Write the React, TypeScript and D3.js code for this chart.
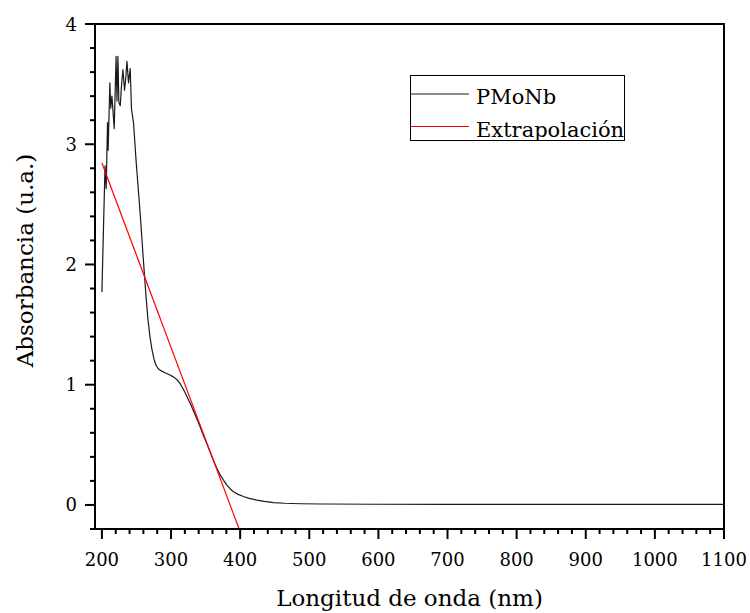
import React from "react";
import * as d3 from "d3";

const wavelength = [200, 204.5, 206.2, 208.1, 209.0, 211.5, 212.8, 214.5, 217.8, 220.5, 221.8, 223.2, 224.5, 226.5, 228.5, 230.4, 232.7, 234.5, 236.2, 238.5, 240.9, 242.8, 245.7, 249.6, 255.4, 260.2, 263.5, 266.5, 269.5, 272.5, 275.5, 278.5, 282, 286, 291, 297, 303.5, 309, 314, 319, 324, 329, 334, 338.5, 343, 347.5, 351.8, 356.5, 361.4, 366, 371.1, 376, 380.8, 385.5, 390.3, 397, 404.8, 413, 424.1, 435, 448.2, 465, 486.8, 520, 600, 700, 900, 1100];
const absorbance = [1.77, 2.82, 2.63, 3.18, 2.95, 3.51, 3.30, 3.40, 3.13, 3.73, 3.36, 3.73, 3.35, 3.32, 3.50, 3.62, 3.45, 3.55, 3.69, 3.51, 3.63, 3.29, 3.18, 2.85, 2.42, 2.02, 1.76, 1.55, 1.40, 1.29, 1.21, 1.16, 1.13, 1.115, 1.10, 1.085, 1.065, 1.04, 1.0, 0.95, 0.89, 0.83, 0.76, 0.70, 0.635, 0.57, 0.51, 0.44, 0.37, 0.31, 0.25, 0.205, 0.165, 0.135, 0.11, 0.088, 0.07, 0.055, 0.04, 0.03, 0.02, 0.014, 0.01, 0.008, 0.006, 0.005, 0.005, 0.005];
const extrapWavelength = [200, 398.5];
const extrapAbsorbance = [2.844, -0.2];

const xMajorTicks = [200, 300, 400, 500, 600, 700, 800, 900, 1000, 1100];
const yMajorTicks = [0, 1, 2, 3, 4];
const seriesNames = ["PMoNb", "Extrapolación"];
const xTitle = "Longitud de onda (nm)";
const yTitle = "Absorbancia (u.a.)";

const W = 750, H = 613;
const L = 95, R = 724, T = 24, B = 529;
const FONT = "'DejaVu Serif', serif";

export default function App() {
  const x = d3.scaleLinear().domain([190, 1100]).range([L, R]);
  const y = d3.scaleLinear().domain([-0.2, 4]).range([B, T]);

  const spectrum = wavelength.map((w, i) => [w, absorbance[i]] as [number, number]);
  const extrap = extrapWavelength.map((w, i) => [w, extrapAbsorbance[i]] as [number, number]);
  const line = d3.line<[number, number]>().x(d => x(d[0])).y(d => y(d[1]));

  const xMinor = d3.range(200, 1100.01, 20).filter(v => !xMajorTicks.includes(Math.round(v)));
  const yMinor = d3.range(-0.2, 4.001, 0.2).map(v => Math.round(v * 10) / 10).filter(v => !yMajorTicks.includes(v));

  return (
    <svg width={W} height={H} style={{ position: "absolute", left: 0, top: 0, background: "#fff" }}>
      <defs>
        <clipPath id="plot">
          <rect x={L} y={T} width={R - L} height={B - T} />
        </clipPath>
      </defs>
      <g clipPath="url(#plot)">
        <path d={line(spectrum) || ""} fill="none" stroke="#1a1a1a" strokeWidth={1.2} strokeLinejoin="round" />
        <path d={line(extrap) || ""} fill="none" stroke="#ff0000" strokeWidth={1.2} />
      </g>
      {/* frame */}
      <rect x={L} y={T} width={R - L} height={B - T} fill="none" stroke="#000" strokeWidth={2} />
      {/* x ticks */}
      {xMajorTicks.map(v => (
        <g key={"xm" + v}>
          <line x1={x(v)} x2={x(v)} y1={B} y2={B + 10} stroke="#000" strokeWidth={2} />
          <text x={x(v)} y={566} textAnchor="middle" fontFamily={FONT} fontSize={18} fill="#000">{v}</text>
        </g>
      ))}
      {xMinor.map(v => (
        <line key={"xn" + v} x1={x(v)} x2={x(v)} y1={B} y2={B + 5} stroke="#000" strokeWidth={2} />
      ))}
      {/* y ticks */}
      {yMajorTicks.map(v => (
        <g key={"ym" + v}>
          <line x1={L - 10} x2={L} y1={y(v)} y2={y(v)} stroke="#000" strokeWidth={2} />
          <text x={77} y={y(v) + 6.5} textAnchor="end" fontFamily={FONT} fontSize={18} fill="#000">{v}</text>
        </g>
      ))}
      {yMinor.map(v => (
        <line key={"yn" + v} x1={L - 5} x2={L} y1={y(v)} y2={y(v)} stroke="#000" strokeWidth={2} />
      ))}
      {/* titles */}
      <text x={(L + R) / 2} y={606} textAnchor="middle" fontFamily={FONT} fontSize={23} fill="#000">{xTitle}</text>
      <text transform={`translate(33,${(T + B) / 2 - 16}) rotate(-90)`} textAnchor="middle" fontFamily={FONT} fontSize={23} fill="#000">{yTitle}</text>
      {/* legend */}
      <rect x={410.5} y={75.5} width={214} height={65} fill="#fff" stroke="#000" strokeWidth={1} />
      <line x1={411} x2={469} y1={94} y2={94} stroke="#1a1a1a" strokeWidth={1.2} />
      <line x1={411} x2={469} y1={126.5} y2={126.5} stroke="#ff0000" strokeWidth={1.2} />
      <text x={476} y={104} fontFamily={FONT} fontSize={21} fill="#000">{seriesNames[0]}</text>
      <text x={476} y={137} fontFamily={FONT} fontSize={21} fill="#000">{seriesNames[1]}</text>
    </svg>
  );
}
